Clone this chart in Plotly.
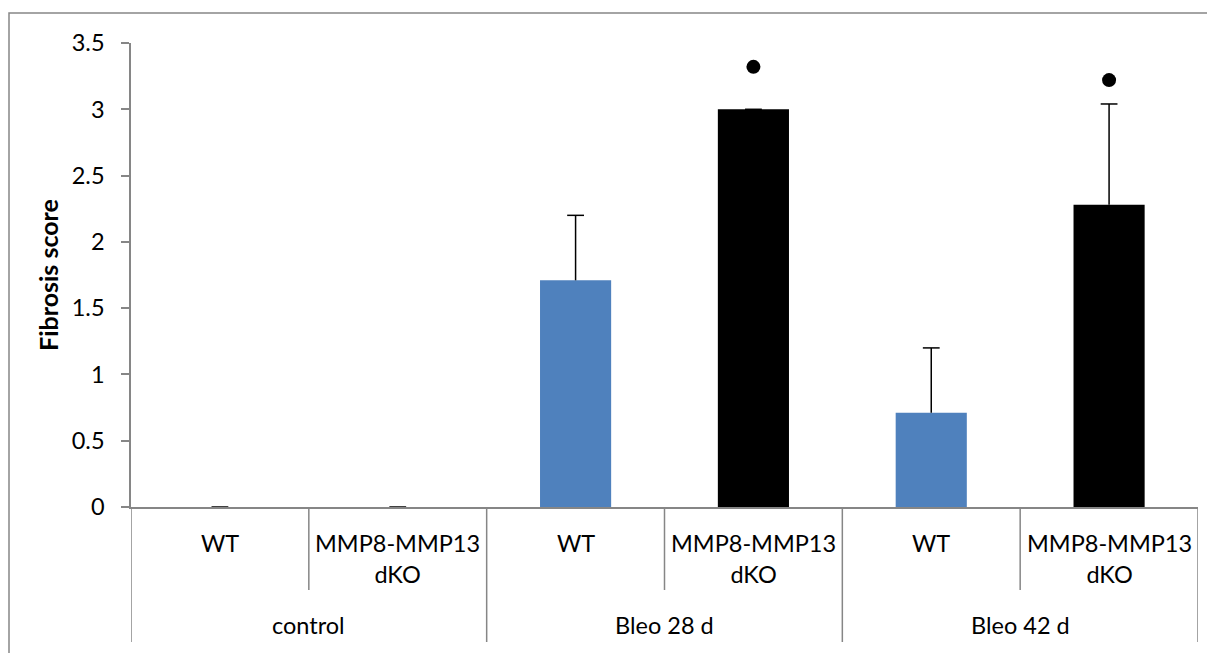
import plotly.graph_objects as go

# ---- data ----
groups = ["control", "Bleo 28 d", "Bleo 42 d"]
genotypes = ["WT", "MMP8-MMP13<br>dKO"]
wt_values = [0.0, 1.71, 0.71]
wt_errors = [0.0, 0.49, 0.49]
dko_values = [0.0, 3.0, 2.28]
dko_errors = [0.0, 0.0, 0.76]
sig_groups = [1, 2]            # groups carrying a significance marker (dKO bar)
sig_values = [3.32, 3.22]
y_ticks = [0, 0.5, 1, 1.5, 2, 2.5, 3, 3.5]

FONT = "Lato"
GREY = "#868686"
BLUE = "#4F81BD"
FS = 23.5

# page body has an 8px default margin -> figure is offset by 8px
OFF = 8
W, H = 1215 - 2 * OFF, 661 - 2 * OFF
L, T = 131 - OFF, 43 - OFF
R = W - (1198 - OFF)
B = H - (507 - OFF)
plot_h = H - T - B
plot_w = W - L - R

n_sub = len(genotypes)
wt_x = [g * n_sub for g in range(len(groups))]
dko_x = [g * n_sub + 1 for g in range(len(groups))]
sig_x = [g * n_sub + 1 for g in sig_groups]

def py(pix):
    """pixel offset below x-axis -> paper y"""
    return -pix / plot_h

fig = go.Figure()
for xs, vals, errs, col in [(wt_x, wt_values, wt_errors, BLUE),
                            (dko_x, dko_values, dko_errors, "black")]:
    fig.add_bar(x=xs, y=vals, width=0.4, marker=dict(color=col, line=dict(width=0)),
                error_y=dict(type="data", array=errs, arrayminus=[0] * len(errs),
                             symmetric=False, color="black", thickness=1.5, width=0),
                showlegend=False)
    # upper caps of the error bars
    fig.add_scatter(x=xs, y=[v + e for v, e in zip(vals, errs)], mode="markers",
                    marker=dict(symbol="line-ew", size=12, line=dict(color="black", width=1.5)),
                    showlegend=False, hoverinfo="skip")
fig.add_scatter(x=sig_x, y=sig_values, mode="markers",
                marker=dict(symbol="circle", size=14, color="black"), showlegend=False)

n_cat = len(groups) * n_sub
shapes = []
annotations = []
# inner separators
for g in range(len(groups)):
    xb = g * n_sub + 0.5
    shapes.append(dict(type="line", xref="x", yref="paper", x0=xb, x1=xb, y0=0, y1=py(83),
                       line=dict(color=GREY, width=1.5)))
# group separators
for g in range(len(groups) + 1):
    xb = g * n_sub - 0.5
    shapes.append(dict(type="line", xref="x", yref="paper", x0=xb, x1=xb, y0=0, y1=py(135),
                       line=dict(color=GREY, width=1.5)))
# chart border (extends past the image on right/bottom)
shapes.append(dict(type="rect", xref="paper", yref="paper",
                   x0=(9 - OFF - L) / plot_w, x1=1.2, y0=1 + (T - (13 - OFF)) / plot_h, y1=-0.6,
                   line=dict(color=GREY, width=1.5), fillcolor="rgba(0,0,0,0)", layer="below"))

for g, gname in enumerate(groups):
    for s, sname in enumerate(genotypes):
        xi = g * n_sub + s
        annotations.append(dict(x=xi, y=py(20), xref="x", yref="paper", text=sname,
                                showarrow=False, yanchor="top", align="center",
                                font=dict(family=FONT, size=FS, color="black")))
    annotations.append(dict(x=g * n_sub + 0.5, y=py(118), xref="x", yref="paper", text=gname,
                            showarrow=False, yanchor="middle",
                            font=dict(family=FONT, size=FS, color="black")))

annotations.append(dict(x=(48 - 131) / plot_w, y=0.5, xref="paper", yref="paper",
                        text="<b>Fibrosis score</b>", textangle=-90, showarrow=False,
                        xanchor="center", yanchor="middle",
                        font=dict(family=FONT, size=25, color="black")))

fig.update_layout(
    width=W, height=H,
    margin=dict(l=L, r=R, t=T, b=B, pad=0),
    paper_bgcolor="white", plot_bgcolor="white",
    barmode="overlay",
    shapes=shapes, annotations=annotations,
    font=dict(family=FONT, size=FS, color="black"),
)
fig.update_xaxes(range=[-0.5, n_cat - 0.5], showticklabels=False, showgrid=False,
                 zeroline=False, showline=True, linecolor=GREY, linewidth=1.5, ticks="")
fig.update_yaxes(range=[0, 3.5], tickvals=y_ticks, ticktext=[f"{v:g}" for v in y_ticks],
                 showgrid=False, zeroline=False, showline=True, linecolor=GREY, linewidth=1.5,
                 ticks="outside", ticklen=8, tickcolor=GREY, tickwidth=1.5,
                 ticklabelstandoff=12,
                 tickfont=dict(family=FONT, size=FS, color="black"))

fig.write_html("out.html")
